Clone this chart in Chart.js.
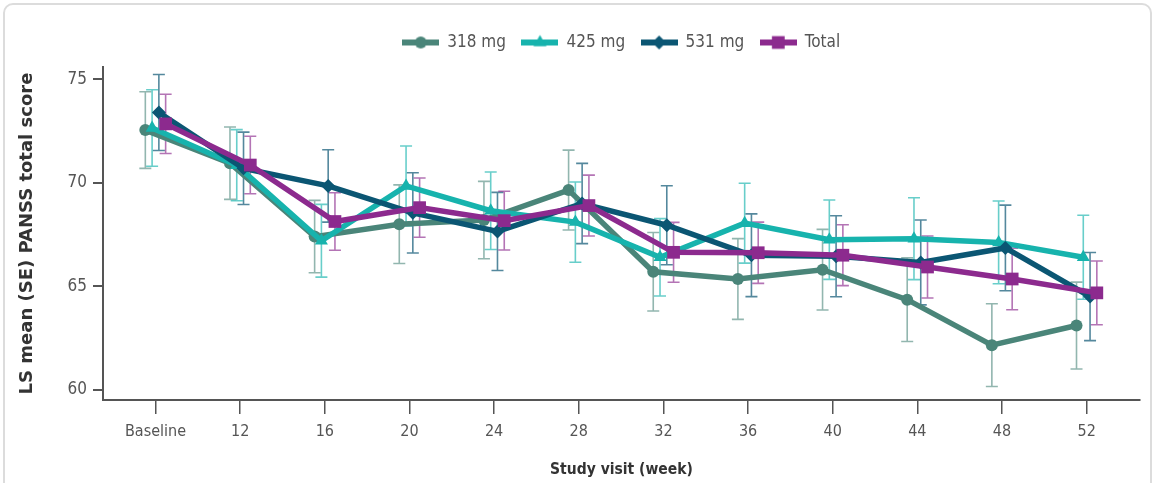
<!DOCTYPE html>
<html>
<head>
<meta charset="utf-8">
<script src="https://cdn.jsdelivr.net/npm/chart.js@4.4.1/dist/chart.umd.min.js"></script>
<style>
    html, body { margin: 0; padding: 0; background: #fff; }
    #moldura { position: absolute; left: 3px; top: 3px; width: 1145px; height: 500px; border: 2px solid #dcdcdc; border-radius: 10px; }
    #caixa { position: absolute; left: 0; top: 0; width: 1161px; height: 483px; }
</style>
</head>
<body>
<div id="moldura"></div>
<div id="caixa"><canvas id="graficoPanss"></canvas></div>
<script>
const semanas = ["Baseline", "12", "16", "20", "24", "28", "32", "36", "40", "44", "48", "52"];
const yTicks = [60, 65, 70, 75];

const media318 = [72.55, 70.95, 67.4, 68.0, 68.2, 69.65, 65.7, 65.35, 65.8, 64.35, 62.15, 63.1];
const ep318 = [1.85, 1.75, 1.75, 1.9, 1.87, 1.93, 1.9, 1.95, 1.95, 2.02, 2.0, 2.1];
const media425 = [72.65, 70.85, 67.2, 69.85, 68.65, 68.1, 66.4, 68.05, 67.25, 67.3, 67.12, 66.4];
const ep425 = [1.85, 1.72, 1.76, 1.93, 1.87, 1.94, 1.87, 1.93, 1.92, 1.98, 2.0, 2.03];
const media531 = [73.4, 70.7, 69.85, 68.55, 67.65, 69.0, 67.95, 66.5, 66.45, 66.15, 66.85, 64.5];
const ep531 = [1.84, 1.75, 1.75, 1.94, 1.89, 1.94, 1.91, 2.0, 1.96, 2.05, 2.07, 2.13];
const mediaTotal = [72.85, 70.86, 68.13, 68.8, 68.17, 68.9, 66.64, 66.62, 66.5, 65.93, 65.35, 64.68];
const epTotal = [1.43, 1.39, 1.39, 1.43, 1.42, 1.47, 1.45, 1.48, 1.47, 1.5, 1.49, 1.54];

const fonteCond = "'DejaVu Sans Condensed', sans-serif";

// imagem da legenda: linha + marcador
function imagemLegenda(cor, estilo, raio) {
    const c = document.createElement("canvas");
    c.width = 37;
    c.height = 18;
    const g = c.getContext("2d");
    g.strokeStyle = cor;
    g.lineWidth = 6;
    g.beginPath();
    g.moveTo(0, 9);
    g.lineTo(37, 9);
    g.stroke();
    g.fillStyle = cor;
    Chart.helpers.drawPoint(g, { pointStyle: estilo, radius: raio, borderWidth: 0, rotation: 0 }, 18.5, 9);
    return c;
}

function serie(rotulo, medias, erros, cor, corErro, estilo, raio, deslocamento, ordem) {
    return {
        label: rotulo,
        data: medias.map((v, i) => ({ x: i + deslocamento, y: v })),
        erros: erros,
        corErro: corErro,
        borderColor: cor,
        backgroundColor: cor,
        pointBackgroundColor: cor,
        pointBorderWidth: 0,
        pointStyle: estilo,
        pointRadius: raio,
        borderWidth: 5.5,
        tension: 0,
        order: ordem,
        imagem: imagemLegenda(cor, estilo, raio)
    };
}

const barrasErro = {
    id: "barrasErro",
    beforeDatasetsDraw(chart) {
        const ctx = chart.ctx;
        const xs = chart.scales.x;
        const ys = chart.scales.y;
        chart.data.datasets.forEach((ds, d) => {
            if (!chart.isDatasetVisible(d)) return;
            ctx.save();
            ctx.strokeStyle = ds.corErro;
            ctx.lineWidth = 1.6;
            ds.data.forEach((p, i) => {
                const x = xs.getPixelForValue(p.x);
                const y1 = ys.getPixelForValue(p.y + ds.erros[i]);
                const y2 = ys.getPixelForValue(p.y - ds.erros[i]);
                ctx.beginPath();
                ctx.moveTo(x, y1); ctx.lineTo(x, y2);
                ctx.moveTo(x - 6, y1); ctx.lineTo(x + 6, y1);
                ctx.moveTo(x - 6, y2); ctx.lineTo(x + 6, y2);
                ctx.stroke();
            });
            ctx.restore();
        });
    }
};

const alturaLegenda = {
    id: "alturaLegenda",
    beforeInit(chart) {
        if (!chart.legend) return;
        const fit = chart.legend.fit;
        chart.legend.fit = function () {
            fit.call(this);
            this.height = 49;
        };
    }
};

document.addEventListener("DOMContentLoaded", () => {

    const ctx = document.getElementById("graficoPanss");

    new Chart(ctx, {
        type: "line",
        data: {
            datasets: [
                serie("318 mg", media318, ep318, "#4a8579", "rgba(74,133,121,0.6)", "circle", 6, -0.12, 4),
                serie("425 mg", media425, ep425, "#17b3ad", "rgba(23,179,173,0.65)", "triangle", 7.5, -0.04, 3),
                serie("531 mg", media531, ep531, "#0b5673", "rgba(11,86,115,0.7)", "rectRot", 7, 0.04, 2),
                serie("Total", mediaTotal, epTotal, "#8c2a8e", "rgba(140,42,142,0.65)", "rect", 9, 0.12, 1)
            ]
        },
        options: {
            responsive: true,
            maintainAspectRatio: false,
            animation: false,
            layout: { padding: { left: 14, right: 21, top: 18, bottom: 4 } },
            plugins: {
                tooltip: { enabled: false },
                legend: {
                    display: true,
                    position: "top",
                    fullSize: false,
                    labels: {
                        usePointStyle: true,
                        pointStyleWidth: 36,
                        padding: 16,
                        color: "#555",
                        font: { family: fonteCond, size: 17 },
                        generateLabels: (chart) => chart.data.datasets.map((ds, i) => ({
                            text: ds.label,
                            fillStyle: ds.borderColor,
                            strokeStyle: ds.borderColor,
                            lineWidth: 0,
                            pointStyle: ds.imagem,
                            fontColor: "#555",
                            hidden: !chart.isDatasetVisible(i),
                            datasetIndex: i
                        }))
                    }
                }
            },
            scales: {
                x: {
                    type: "linear",
                    min: -0.62,
                    max: 11.63,
                    afterBuildTicks: (s) => { s.ticks = semanas.map((w, i) => ({ value: i })); },
                    afterFit: (s) => { s.height = 79; },
                    grid: { drawOnChartArea: false, drawTicks: true, tickLength: 14, color: "#555", lineWidth: 1.5 },
                    border: { color: "#555", width: 2 },
                    ticks: {
                        autoSkip: false,
                        maxRotation: 0,
                        padding: 8,
                        color: "#555",
                        font: { family: fonteCond, size: 16 },
                        callback: (v) => semanas[v]
                    },
                    title: {
                        display: true,
                        text: "Study visit (week)",
                        color: "#333",
                        padding: { top: 0, bottom: 0 },
                        font: { family: fonteCond, size: 15.5, weight: "bold" }
                    }
                },
                y: {
                    min: 59.5,
                    max: 75.6,
                    afterBuildTicks: (s) => { s.ticks = yTicks.map(v => ({ value: v })); },
                    afterFit: (s) => { s.width = 89; },
                    grid: { drawOnChartArea: false, drawTicks: true, tickLength: 10, color: "#555", lineWidth: 2 },
                    border: { color: "#555", width: 2 },
                    ticks: {
                        padding: 6,
                        color: "#555",
                        font: { family: fonteCond, size: 17 }
                    },
                    title: {
                        display: true,
                        text: "LS mean (SE) PANSS total score",
                        color: "#333",
                        padding: { top: 3, bottom: 0 },
                        font: { family: "'DejaVu Sans', sans-serif", size: 18, weight: "bold" }
                    }
                }
            }
        },
        plugins: [barrasErro, alturaLegenda]
    });

});
</script>
</body>
</html>
